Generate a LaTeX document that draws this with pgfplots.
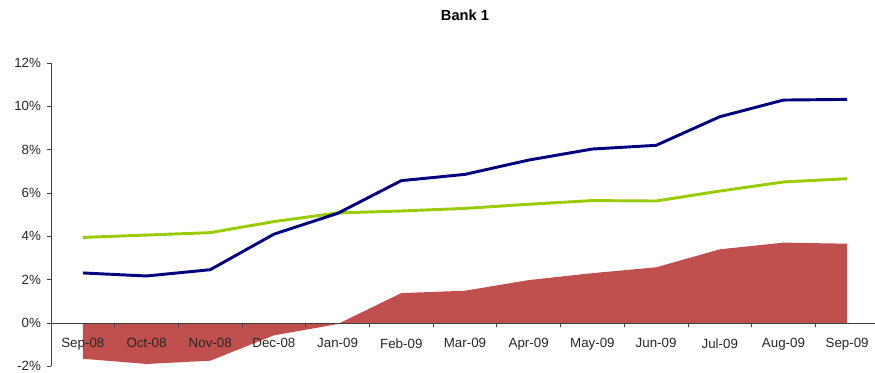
\documentclass[border=0pt]{standalone}
\usepackage{pgfplots}
\pgfplotsset{compat=1.18}
\usepackage{fontspec}
\setmainfont{Liberation Sans}
\definecolor{navyline}{HTML}{000080}
\definecolor{greenline}{HTML}{99CC00}
\definecolor{areared}{HTML}{C0504D}
\definecolor{axgray}{HTML}{404040}
\begin{document}
\begin{tikzpicture}
\begin{axis}[
  scale only axis,
  width=621pt, height=227.5pt,
  xmin=-0.5, xmax=12.5,
  ymin=-2, ymax=12,
  axis on top,
  axis x line*=middle,
  axis y line*=left,
  axis line style={axgray, line width=0.6pt},
  xtick={0,...,12},
  xticklabels={Sep-08,Oct-08,Nov-08,Dec-08,Jan-09,Feb-09,Mar-09,Apr-09,May-09,Jun-09,Jul-09,Aug-09,Sep-09},
  major x tick style={draw=none},
  minor xtick={0.5,1.5,...,11.5},
  minor x tick style={axgray, line width=0.6pt},
  minor tick length=3pt,
  xtick align=outside,
  xticklabel style={font=\fontsize{10}{12}\selectfont, yshift=-5pt, text=black!85},
  ytick={-2,0,...,12},
  yticklabel={\pgfmathprintnumber{\tick}\%},
  ytick align=outside,
  major tick length=3pt,
  y tick style={axgray, line width=0.6pt},
  yticklabel style={font=\fontsize{10}{12}\selectfont, text=black!85, xshift=-1pt},
  /pgf/number format/assume math mode=true,
  title={\textbf{Bank 1}},
  title style={font=\fontsize{11}{13}\selectfont, at={(0.5,1)}, anchor=south, yshift=22pt},
  clip=false,
]
\addplot[fill=areared, draw=none] coordinates {
(0,-1.65) (1,-1.89) (2,-1.74) (3,-0.57) (4,-0.05) (5,1.38) (6,1.49) (7,1.98) (8,2.30) (9,2.57) (10,3.40) (11,3.71) (12,3.66)
} \closedcycle;
\addplot[greenline, line width=2.2pt, line join=round] coordinates {
(0,3.95) (1,4.06) (2,4.17) (3,4.68) (4,5.08) (5,5.17) (6,5.29) (7,5.48) (8,5.65) (9,5.63) (10,6.09) (11,6.51) (12,6.66)
};
\addplot[navyline, line width=2.2pt, line join=round] coordinates {
(0,2.31) (1,2.17) (2,2.46) (3,4.10) (4,5.06) (5,6.57) (6,6.86) (7,7.52) (8,8.03) (9,8.20) (10,9.52) (11,10.29) (12,10.32)
};
\coordinate (ll) at (rel axis cs:0,0);
\coordinate (ur) at (rel axis cs:1,1);
\end{axis}
\pgfresetboundingbox
\path ([xshift=-38.25pt,yshift=-4.75pt]ll) rectangle ([xshift=-3pt,yshift=47.25pt]ur);
\end{tikzpicture}
\end{document}
